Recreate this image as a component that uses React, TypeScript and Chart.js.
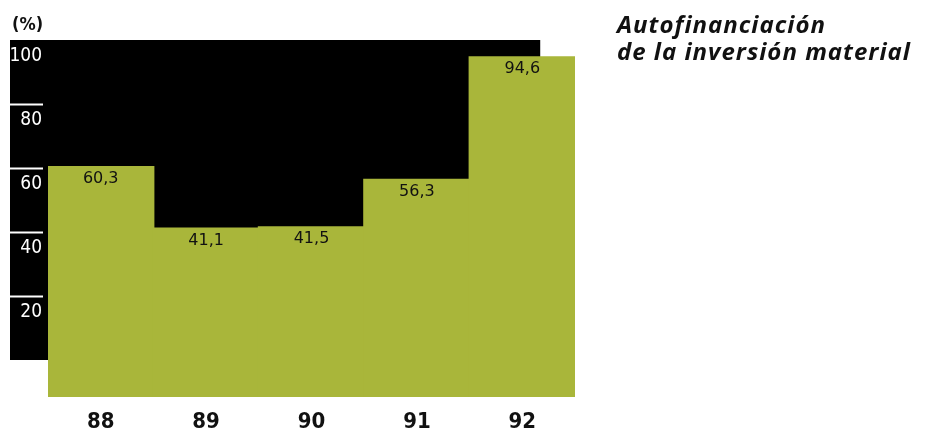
import React, { useEffect, useRef } from 'react';
import { Chart, registerables } from 'chart.js';

Chart.register(...registerables);

// ---- data ----
const CATEGORIES = ['88', '89', '90', '91', '92'];
const VALUES = [60.3, 41.1, 41.5, 56.3, 94.6];
const Y_TICKS = [20, 40, 60, 80, 100];
const Y_MIN = -11.5625;
const Y_MAX = 100;
const BOX_BOTTOM_VALUE = 0;
const BOX_TOP_VALUE = 100;
const BOX_RIGHT_INDEX = 4.17;
const TITLE_LINES = ['Autofinanciación', 'de la inversión material'];
const UNIT_LABEL = '(%)';

const GREEN = '#a9b63a';

const blackBoxPlugin = {
  id: 'blackBox',
  beforeDraw(chart: any) {
    const { ctx, scales } = chart;
    const x = scales.x;
    const y = scales.y;
    const left = y.left;
    const right = x.getPixelForValue(BOX_RIGHT_INDEX);
    const top = y.getPixelForValue(BOX_TOP_VALUE);
    const bottom = y.getPixelForValue(BOX_BOTTOM_VALUE);
    ctx.save();
    ctx.fillStyle = '#000';
    ctx.fillRect(left, top, right - left, bottom - top);
    ctx.restore();
  },
};

const valueLabelPlugin = {
  id: 'valueLabels',
  afterDatasetsDraw(chart: any) {
    const { ctx } = chart;
    const meta = chart.getDatasetMeta(0);
    ctx.save();
    ctx.fillStyle = '#111';
    ctx.font = '16px "DejaVu Sans", sans-serif';
    ctx.textAlign = 'center';
    ctx.textBaseline = 'middle';
    meta.data.forEach((bar: any, i: number) => {
      const label = VALUES[i].toFixed(1).replace('.', ',');
      ctx.fillText(label, bar.x, bar.y + 12);
    });
    ctx.restore();
  },
};

export default function App() {
  const canvasRef = useRef<HTMLCanvasElement | null>(null);

  useEffect(() => {
    if (!canvasRef.current) return;
    const chart = new Chart(canvasRef.current, {
      type: 'bar',
      data: {
        labels: CATEGORIES,
        datasets: [
          {
            data: VALUES,
            base: Y_MIN,
            backgroundColor: GREEN,
            borderWidth: 0,
            inflateAmount: 1,
            barPercentage: 1,
            categoryPercentage: 1,
          } as any,
        ],
      },
      options: {
        animation: false,
        responsive: false,
        maintainAspectRatio: false,
        layout: { padding: { left: 10, right: 350, top: 40, bottom: 0 } },
        plugins: {
          legend: { display: false },
          tooltip: { enabled: false },
          title: { display: false },
        },
        scales: {
          x: {
            type: 'category',
            offset: true,
            grid: { display: false, drawTicks: false },
            border: { display: false },
            ticks: {
              color: '#111',
              padding: 12,
              font: { family: '"DejaVu Sans Condensed", "DejaVu Sans", sans-serif', size: 22, weight: 'bold' },
            },
            afterFit: (scale: any) => {
              scale.height = 36;
            },
          },
          y: {
            type: 'linear',
            min: Y_MIN,
            max: Y_MAX,
            afterBuildTicks: (scale: any) => {
              scale.ticks = Y_TICKS.map((v) => ({ value: v }));
            },
            afterFit: (scale: any) => {
              scale.width = 38;
            },
            grid: {
              display: true,
              drawOnChartArea: false,
              drawTicks: true,
              tickLength: 38,
              tickWidth: 2,
              tickColor: (ctx: any) => (ctx.tick && ctx.tick.value < 100 ? '#ffffff' : 'rgba(0,0,0,0)'),
              tickBorderDash: [33, 100],
            } as any,
            border: { display: false },
            ticks: {
              color: '#ffffff',
              padding: -32,
              labelOffset: 16,
              font: { family: '"DejaVu Sans Condensed", "DejaVu Sans", sans-serif', size: 19 },
              callback: (v: any) => String(v),
            },
          },
        },
      },
      plugins: [blackBoxPlugin, valueLabelPlugin],
    });
    return () => chart.destroy();
  }, []);

  return (
    <div style={{ position: 'fixed', left: 0, top: 0, width: 925, height: 433, background: '#fff' }}>
      <canvas ref={canvasRef} width={925} height={433} style={{ position: 'absolute', left: 0, top: 0 }} />
      <div
        style={{
          position: 'absolute',
          left: 12,
          top: 13,
          fontFamily: '"DejaVu Sans Condensed", "DejaVu Sans", sans-serif',
          fontWeight: 'bold',
          fontSize: 18,
          lineHeight: '22px',
          color: '#111',
        }}
      >
        {UNIT_LABEL}
      </div>
      <div
        style={{
          position: 'absolute',
          left: 617,
          top: 10,
          fontFamily: '"Open Sans", "Noto Sans", sans-serif',
          fontWeight: 700,
          fontStyle: 'italic',
          fontSize: 24,
          letterSpacing: '1px',
          lineHeight: '27px',
          color: '#111',
          whiteSpace: 'nowrap',
        }}
      >
        {TITLE_LINES.map((t) => (
          <div key={t}>{t}</div>
        ))}
      </div>
    </div>
  );
}
